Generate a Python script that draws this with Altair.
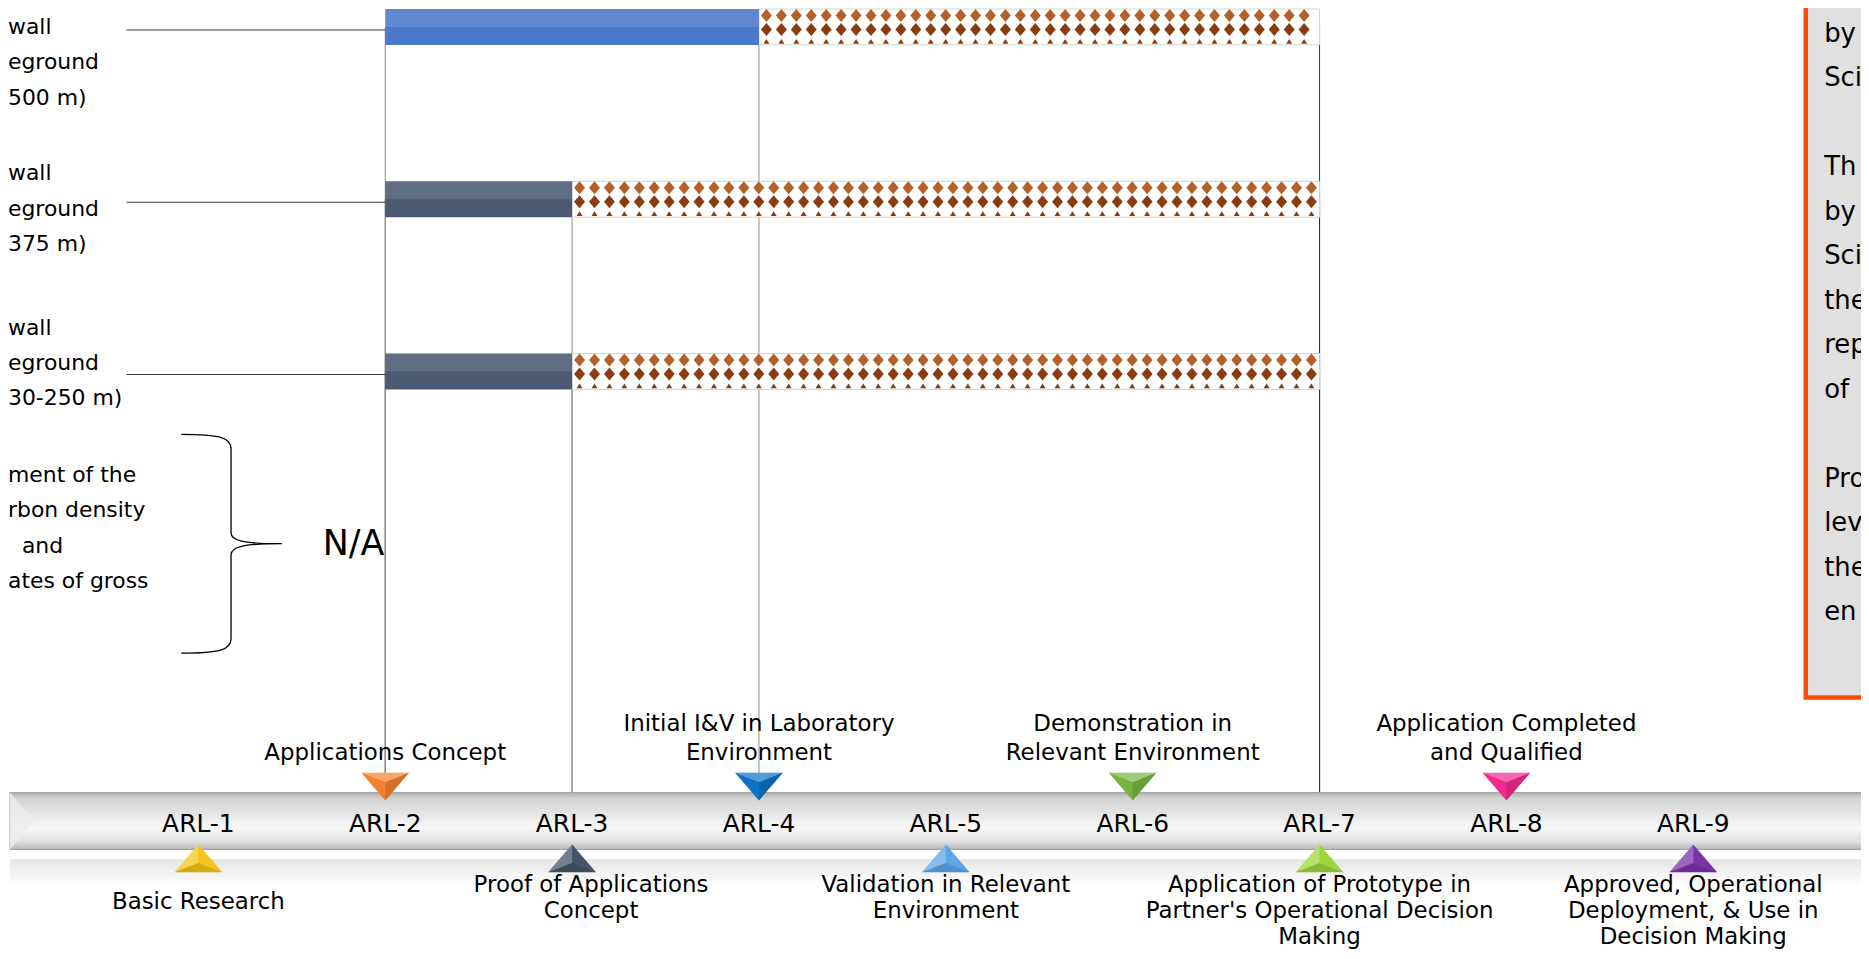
import altair as alt
import pandas as pd

FONT = "DejaVu Sans"

# ---------------- data ----------------
ROW_IDS = ["row1", "row2", "row3", "row4"]
ROW_LABEL_LINES = [
    ["wall", "eground", "500 m)"],
    ["wall", "eground", "375 m)"],
    ["wall", "eground", "30-250 m)"],
    ["ment of the", "rbon density", "  and", "ates of gross"],
]
BAR_ROW_IDS = ["row1", "row2", "row3"]
BAR_START = [2, 2, 2]
BAR_CURRENT = [4, 3, 3]
BAR_TARGET = [7, 7, 7]
NA_ROW_ID = ["row4"]
NA_LABEL = ["N/A"]

ARL_LEVELS = [1, 2, 3, 4, 5, 6, 7, 8, 9]
ARL_NAMES = ["ARL-1", "ARL-2", "ARL-3", "ARL-4", "ARL-5", "ARL-6", "ARL-7", "ARL-8", "ARL-9"]
ARL_MILESTONES = [
    "Basic Research",
    "Applications Concept",
    "Proof of Applications\nConcept",
    "Initial I&V in Laboratory\nEnvironment",
    "Validation in Relevant\nEnvironment",
    "Demonstration in\nRelevant Environment",
    "Application of Prototype in\nPartner's Operational Decision\nMaking",
    "Application Completed\nand Qualified",
    "Approved, Operational\nDeployment, & Use in\nDecision Making",
]
ARL_COLORS = ["#f3c419", "#f3802f", "#44546a", "#0b72c6", "#5da6e6",
              "#76b43f", "#9cd63c", "#f2288d", "#7a34a6"]
BAR_COLOR_LEVELS = [3, 4]
BAR_COLORS = ["#4a5a73", "#4a78cc"]
NOTE_LINES = ["by", "Sci", "", "Th", "by", "Sci", "the", "rep", "of", "",
              "Pro", "lev", "the", "en"]

# ---------------- layout ----------------
W, H = 1861, 943
M = 8
ARL1_X = 199.2 - M
ARL_DX = 187.67
X_SCALE = alt.Scale(domain=[1 - ARL1_X / ARL_DX, 1 + (W - ARL1_X) / ARL_DX],
                    nice=False, zero=False)
Y_ROWS = alt.Scale(type="point", domain=ROW_IDS, range=[25 - M, 544 - M], padding=0)
TL_TOP, TL_BOT = 794 - M, 851 - M
BAR_H = 36
STEP = 15 / ARL_DX
LABEL_FIRST_Y = [25, 172, 327, 475]
LABEL_SHIFT = {3: 19}  # px shift of a milestone caption from its marker

DIAMOND = "M0,-1L0.85,0L0,1L-0.85,0Z"
PIP = "M-1,0.8L1,0.8L0,-0.8Z"
TRI_DOWN = "M-1,-0.58L1,-0.58L0,0.58Z"
TRI_DOWN_TOP = "M-1,-0.58L1,-0.58L0,-0.19Z"
TRI_DOWN_RIGHT = "M1,-0.58L0,0.58L0,-0.19Z"
TRI_UP = "M-1,0.58L1,0.58L0,-0.58Z"
TRI_UP_LEFT = "M-1,0.58L0,-0.58L0,0.19Z"
TRI_UP_BOTTOM = "M-1,0.58L1,0.58L0,0.19Z"
BRACE = ("M-0.45,-0.99C-0.1,-0.99 0,-0.96 0,-0.86L0,-0.1C0,-0.03 0.1,0 0.46,0"
         "C0.1,0 0,0.03 0,0.1L0,0.86C0,0.96 -0.1,0.99 -0.45,0.99")
BEVEL = "M-1,-1L-0.12,0L-1,1Z"

# ---------------- tables ----------------
one = pd.DataFrame({"k": [0]})
bars = pd.DataFrame({"row": BAR_ROW_IDS, "start": BAR_START,
                     "current": BAR_CURRENT, "target": BAR_TARGET})
rules = pd.DataFrame(
    [dict(row=r, level=v, kind=k)
     for r, s, c, t in zip(BAR_ROW_IDS, BAR_START, BAR_CURRENT, BAR_TARGET)
     for v, k in ((s, "start"), (c, "current"), (t, "target"))])
labels = pd.DataFrame(
    [dict(text=t.lstrip(), px=7 * (len(t) - len(t.lstrip())), py=y0 - M + i * 35.5)
     for lines, y0 in zip(ROW_LABEL_LINES, LABEL_FIRST_Y)
     for i, t in enumerate(lines)])
notes = pd.DataFrame([dict(text=t, py=32 - M + i * 44.7) for i, t in enumerate(NOTE_LINES)])
na = pd.DataFrame({"row": NA_ROW_ID, "text": NA_LABEL})
arl = pd.DataFrame({"level": ARL_LEVELS, "name": ARL_NAMES,
                    "side": ["up" if l % 2 else "down" for l in ARL_LEVELS]})
ms_rows = []
for lvl, txt in zip(ARL_LEVELS, ARL_MILESTONES):
    lines = txt.split("\n")
    n = len(lines)
    for i, ln in enumerate(lines):
        if lvl % 2 == 0:
            py = 754 - M - (n - 1 - i) * 29
        elif n > 1:
            py = 887 - M + i * 26
        else:
            py = 904 - M
        ms_rows.append(dict(level=lvl + LABEL_SHIFT.get(lvl, 0) / ARL_DX, text=ln, py=py))
ms = pd.DataFrame(ms_rows)

xq = lambda f: alt.X(f, type="quantitative", scale=X_SCALE, axis=None)
yrow = alt.Y("row:N", scale=Y_ROWS, axis=None)
ypx = alt.Y("py:Q", scale=None, axis=None)
arl_color = alt.Color("level:O", scale=alt.Scale(domain=ARL_LEVELS, range=ARL_COLORS), legend=None)

layers = []

# right note box
layers.append(alt.Chart(one).mark_rect(fill="#e0e0e0", stroke="#ff4a05", strokeWidth=4.5).encode(
    x=alt.value(1813.5 - M), x2=alt.value(W + 20), y=alt.value(-20), y2=alt.value(698.5 - M)))
layers.append(alt.Chart(notes).mark_text(align="left", baseline="middle", font=FONT,
                                         fontSize=26, color="black").encode(
    x=alt.value(1832 - M), y=ypx, text="text:N"))

# vertical level rules
layers.append(alt.Chart(rules).mark_rule(strokeWidth=1).encode(
    x=xq("level"), y=yrow, y2=alt.value(TL_TOP),
    stroke=alt.Stroke("kind:N", scale=alt.Scale(domain=["start", "current", "target"],
                                               range=["#8c8c8c", "#8c8c8c", "#333333"]),
                      legend=None)))
# connectors
layers.append(alt.Chart(bars).mark_rule(color="#3a3a3a", strokeWidth=1.1, yOffset=3).encode(
    x=xq("start"), x2=alt.value(127 - M), y=yrow))

# remaining (patterned) part
layers.append(alt.Chart(bars).mark_bar(height=BAR_H, color="white", stroke="#d4d4d4",
                                       strokeWidth=1).encode(
    x=xq("current"), x2="target:Q", y=yrow))
pat = alt.Chart(bars).transform_calculate(
    k=f"sequence(0, floor((datum.target - datum.current) / {STEP}))"
).transform_flatten(["k"]).transform_calculate(
    px=f"datum.current + (datum.k + 0.5) * {STEP}")
layers.append(pat.mark_point(shape=DIAMOND, size=169, filled=True, color="#b4602b",
                             opacity=1, strokeWidth=0, yOffset=-11.5).encode(x=xq("px"), y=yrow))
layers.append(pat.mark_point(shape=DIAMOND, size=169, filled=True, color="#8b3b10",
                             opacity=1, strokeWidth=0, yOffset=2.5).encode(x=xq("px"), y=yrow))
layers.append(pat.mark_point(shape=PIP, size=36, filled=True, color="#8b3b10",
                             opacity=1, strokeWidth=0, yOffset=14.5).encode(x=xq("px"), y=yrow))

# achieved part
layers.append(alt.Chart(bars).mark_bar(height=BAR_H).encode(
    x=xq("start"), x2="current:Q", y=yrow,
    fill=alt.Fill("current:O", scale=alt.Scale(domain=BAR_COLOR_LEVELS, range=BAR_COLORS),
                  legend=None)))
layers.append(alt.Chart(bars).mark_bar(height=BAR_H / 2, yOffset=-BAR_H / 4, color="white",
                                       opacity=0.12).encode(
    x=xq("start"), x2="current:Q", y=yrow))

# N/A row
layers.append(alt.Chart(na).mark_point(shape=BRACE, size=222 * 222, filled=False, stroke="black",
                                       strokeWidth=1.3, opacity=1).encode(
    x=alt.value(232 - M), y=yrow))
layers.append(alt.Chart(na).mark_text(align="left", baseline="middle", font=FONT,
                                      fontSize=35, color="black").encode(
    x=alt.value(324 - M), y=yrow, text="text:N"))

# row labels
layers.append(alt.Chart(labels).mark_text(align="left", baseline="middle", font=FONT,
                                          fontSize=22, color="black").encode(
    x=alt.X("px:Q", scale=None, axis=None), y=ypx, text="text:N"))

# timeline tube
TL_GRAD = alt.LinearGradient(gradient="linear", x1=0, x2=0, y1=0, y2=1, stops=[
    alt.GradientStop(offset=0, color="#b0b0b0"),
    alt.GradientStop(offset=0.1, color="#d2d2d2"),
    alt.GradientStop(offset=0.45, color="#ebebeb"),
    alt.GradientStop(offset=0.62, color="#f8f8f8"),
    alt.GradientStop(offset=0.86, color="#e0e0e0"),
    alt.GradientStop(offset=1, color="#b8b8b8")])
REFL_GRAD = alt.LinearGradient(gradient="linear", x1=0, x2=0, y1=0, y2=1, stops=[
    alt.GradientStop(offset=0, color="#e6e6e6"),
    alt.GradientStop(offset=1, color="#ffffff")])
layers.append(alt.Chart(one).mark_rect(fill=REFL_GRAD).encode(
    x=alt.value(10 - M), x2=alt.value(W + 20), y=alt.value(861 - M), y2=alt.value(888 - M)))
layers.append(alt.Chart(one).mark_rect(fill=TL_GRAD, stroke="#9c9c9c", strokeWidth=1).encode(
    x=alt.value(10 - M), x2=alt.value(W + 20), y=alt.value(TL_TOP), y2=alt.value(TL_BOT)))
layers.append(alt.Chart(one).mark_point(shape=BEVEL, size=57 * 57, filled=True, color="#ececec",
                                        opacity=0.85, strokeWidth=0).encode(
    x=alt.value(10 - M + 28.5), y=alt.value((TL_TOP + TL_BOT) / 2)))

# milestone triangles
down = alt.Chart(arl).transform_filter("datum.side == 'down'")
up = alt.Chart(arl).transform_filter("datum.side == 'up'")
TRI_SIZE = 48 * 48
layers.append(down.mark_point(shape=TRI_DOWN, size=TRI_SIZE, filled=True, opacity=1,
                              strokeWidth=0).encode(x=xq("level"), y=alt.value(788 - M), color=arl_color))
layers.append(down.mark_point(shape=TRI_DOWN_TOP, size=TRI_SIZE, filled=True, color="white",
                              opacity=0.3, strokeWidth=0).encode(x=xq("level"), y=alt.value(788 - M)))
layers.append(down.mark_point(shape=TRI_DOWN_RIGHT, size=TRI_SIZE, filled=True, color="black",
                              opacity=0.12, strokeWidth=0).encode(x=xq("level"), y=alt.value(788 - M)))
layers.append(up.mark_point(shape=TRI_UP, size=TRI_SIZE, filled=True, opacity=1,
                            strokeWidth=0).encode(x=xq("level"), y=alt.value(860 - M), color=arl_color))
layers.append(up.mark_point(shape=TRI_UP_LEFT, size=TRI_SIZE, filled=True, color="white",
                            opacity=0.25, strokeWidth=0).encode(x=xq("level"), y=alt.value(860 - M)))
layers.append(up.mark_point(shape=TRI_UP_BOTTOM, size=TRI_SIZE, filled=True, color="black",
                            opacity=0.12, strokeWidth=0).encode(x=xq("level"), y=alt.value(860 - M)))

# ARL labels
layers.append(alt.Chart(arl).mark_text(baseline="middle", font=FONT, fontSize=25,
                                       color="black").encode(
    x=xq("level"), y=alt.value(826 - M), text="name:N"))
# milestone labels
layers.append(alt.Chart(ms).mark_text(baseline="middle", font=FONT, fontSize=23,
                                      color="black").encode(
    x=xq("level"), y=ypx, text="text:N"))

chart = alt.layer(*layers).properties(
    width=W, height=H, padding=0, background="white",
    autosize=alt.AutoSizeParams(type="none"),
).configure_view(stroke=None)

chart.save("out.html", embed_options={"renderer": "svg", "actions": False})
